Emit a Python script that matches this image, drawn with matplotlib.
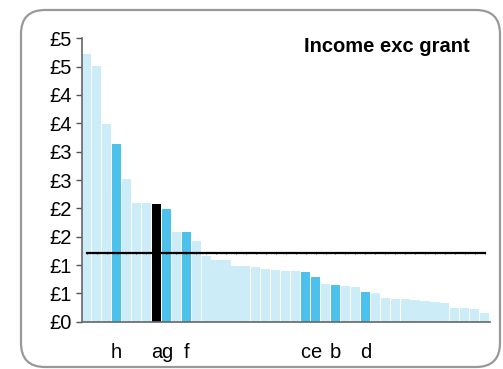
#!/usr/bin/env python3
"""Income exc grant: ranked bars with average line."""
import matplotlib
matplotlib.use("Agg")
import matplotlib.pyplot as plt
import numpy as np
from matplotlib.patches import FancyBboxPatch
from matplotlib.transforms import IdentityTransform
from matplotlib.ticker import FuncFormatter, MultipleLocator

plt.rcParams["font.family"] = ["Liberation Sans", "DejaVu Sans"]

values = [4.72, 4.51, 3.49, 3.14, 2.52, 2.09, 2.09, 2.08, 1.99, 1.58,
          1.58, 1.42, 1.16, 1.09, 1.09, 0.98, 0.98, 0.97, 0.93, 0.91,
          0.89, 0.89, 0.87, 0.79, 0.67, 0.65, 0.63, 0.61, 0.52, 0.51,
          0.42, 0.40, 0.40, 0.38, 0.36, 0.35, 0.33, 0.24, 0.24, 0.22,
          0.15]
labels = [""] * len(values)
for idx, lab in {3: "h", 7: "a", 8: "g", 10: "f", 22: "c", 23: "e", 25: "b", 28: "d"}.items():
    labels[idx] = lab
highlight = {3: "blue", 7: "black", 8: "blue", 10: "blue", 22: "blue", 23: "blue", 25: "blue", 28: "blue"}
average = 1.22

COLORS = {"light": "#CCECF8", "blue": "#4BC1EB", "black": "#000000"}

fig = plt.figure(figsize=(5.03, 3.69), dpi=100)
fig.patch.set_facecolor("white")
ax = fig.add_axes([81.7 / 503, 1 - 321.7 / 369, 408 / 503, (321.7 - 38.3) / 369])

x = np.arange(len(values))
cols = [COLORS[highlight.get(i, "light")] for i in x]
ax.bar(x, values, width=0.92, color=cols, zorder=2)
ax.plot(x, [average] * len(x), color="black", lw=1.6, marker="|", ms=1.8, mew=0.5, zorder=3)

ax.set_xlim(-0.5, len(values) - 0.5)
ax.set_ylim(0, 5)
ax.yaxis.set_major_locator(MultipleLocator(0.5))
ax.yaxis.set_major_formatter(FuncFormatter(lambda v, p: f"£{int(v + 0.5)}"))
ax.set_xticks(x)
ax.set_xticklabels(labels)
ax.tick_params(axis="x", length=0, pad=15, labelsize=14.5)
ax.tick_params(axis="y", length=4.3, width=1, color="#555555", pad=3, labelsize=14.5, direction="out")

for s in ("top", "right"):
    ax.spines[s].set_visible(False)
for s in ("left", "bottom"):
    ax.spines[s].set_color("#666666")
    ax.spines[s].set_linewidth(1.2)

fig.text(387 / 503, 1 - 47 / 369, "Income exc grant", ha="center", va="center",
         fontsize=14.5, fontweight="bold")

# rounded frame in pixel coordinates
frame = FancyBboxPatch((21, 369 - 367), 479, 357, boxstyle="round,pad=0,rounding_size=24",
                       fill=False, edgecolor="#999999", lw=1.6, transform=IdentityTransform())
fig.add_artist(frame)

fig.savefig("out.png", dpi=100)
